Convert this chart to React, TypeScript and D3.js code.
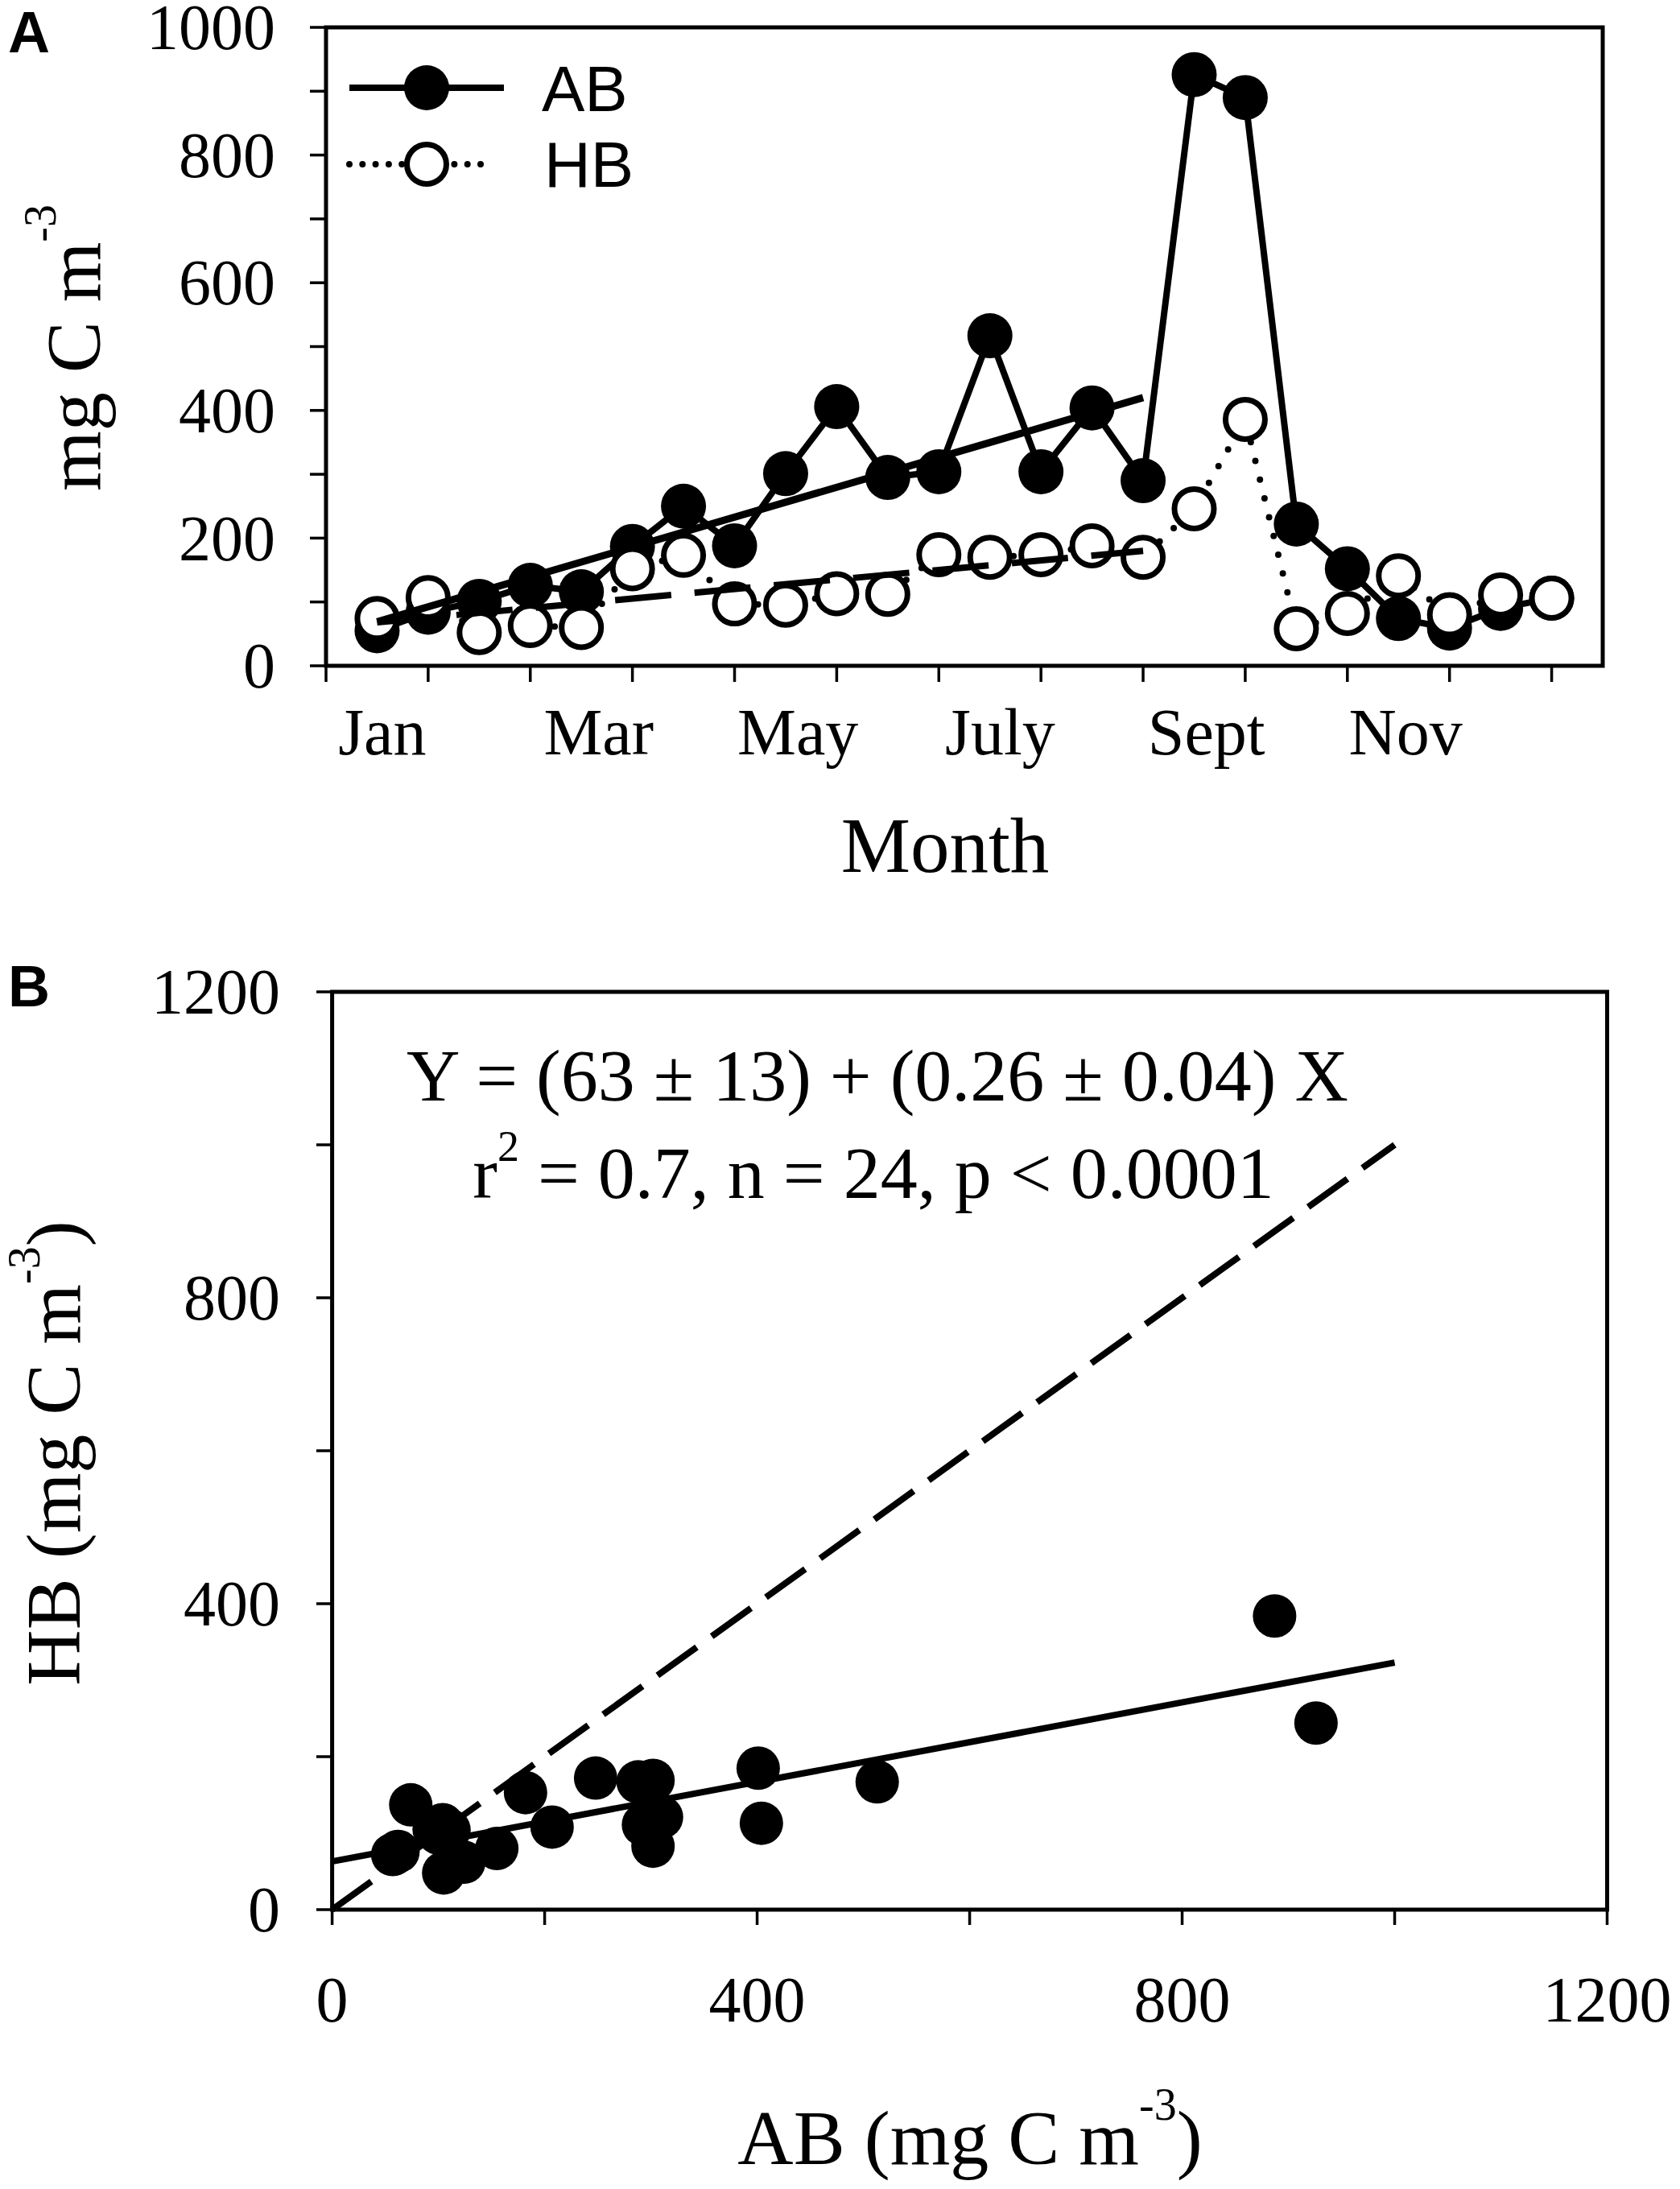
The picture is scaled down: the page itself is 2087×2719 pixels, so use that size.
import * as d3 from "d3";

// Panel A: biomass by sampling date (months from Jan 1)
const sampleMonth = [0.5, 1, 1.5, 2, 2.5, 3, 3.5, 4, 4.5, 5, 5.5, 6, 6.5, 7, 7.5, 8, 8.5, 9, 9.5, 10, 10.5, 11, 11.5, 12];
const abBiomass = [55, 84, 101, 126, 116, 187, 250, 188, 301, 406, 295, 304, 517, 304, 404, 290, 926, 890, 222, 152, 74, 59, 90, 106];
const hbBiomass = [74, 107, 52, 63, 60, 152, 173, 97, 95, 113, 112, 174, 170, 174, 188, 170, 246, 386, 58, 82, 141, 80, 111, 106];
const abTrend: [number, number][] = [[0.5, 69], [8, 420]];
const hbTrend: [number, number][] = [[0.5, 68], [8, 180]];
const monthTicks = [0, 1, 2, 3, 4, 5, 6, 7, 8, 9, 10, 11, 12];
const monthLabels = ["Jan", "Mar", "May", "July", "Sept", "Nov"];
const monthLabelPos = [0.55, 2.67, 4.62, 6.6, 8.62, 10.57];
const yTicksA = [0, 100, 200, 300, 400, 500, 600, 700, 800, 900, 1000];
const yLabelsA = [0, 200, 400, 600, 800, 1000];

// Panel B: HB vs AB
const scatterAB = [57, 62, 74, 96, 100, 104, 110, 105, 124, 116, 155, 182, 207, 248, 288, 302, 293, 310, 302, 401, 404, 513, 887, 926];
const scatterHB = [72, 76, 137, 105, 100, 111, 104, 48, 62, 66, 80, 153, 108, 172, 167, 169, 111, 121, 83, 185, 113, 167, 384, 244];
const fitB: [number, number][] = [[0, 63], [1000, 323]];
const oneToOne: [number, number][] = [[0, 0], [1000, 1000]];
const ticksB = [0, 200, 400, 600, 800, 1000, 1200];
const labelsB = [0, 400, 800, 1200];

const SERIF = "'Liberation Serif', 'Times New Roman', serif";
const SANS = "'Liberation Sans', Arial, sans-serif";

export default function App() {
  const xA = d3.scaleLinear().domain([0, 12.5]).range([405, 1991]);
  const yA = d3.scaleLinear().domain([0, 1000]).range([827, 34]);
  const xB = d3.scaleLinear().domain([0, 1200]).range([412.6, 1996.5]);
  const yB = d3.scaleLinear().domain([0, 1200]).range([2372, 1232]);

  const seriesLine = d3.line<number>()
    .x((_, i) => xA(sampleMonth[i]))
    .y(d => yA(d));
  const trendA = d3.line<[number, number]>().x(d => xA(d[0])).y(d => yA(d[1]));
  const lineB = d3.line<[number, number]>().x(d => xB(d[0])).y(d => yB(d[1]));

  return (
    <svg width={2087} height={2719} style={{ position: "absolute", left: 0, top: 0, background: "#fff" }}>
      <rect width={2087} height={2719} fill="#fff" />

      {/* ---------- Panel A ---------- */}
      <text x={10} y={65} fontFamily={SANS} fontWeight="bold" fontSize={72}>A</text>

      <rect x={xA(0)} y={yA(1000)} width={xA(12.5) - xA(0)} height={yA(0) - yA(1000)}
        fill="none" stroke="#000" strokeWidth={5} />
      {yTicksA.map(v => (
        <line key={"ya" + v} x1={385} x2={xA(0)} y1={yA(v)} y2={yA(v)} stroke="#000" strokeWidth={3.5} />
      ))}
      {yLabelsA.map(v => (
        <text key={"yla" + v} x={342} y={yA(v)} dy="0.34em" textAnchor="end" fontFamily={SERIF} fontSize={80}>{v}</text>
      ))}
      {monthTicks.map(m => (
        <line key={"xa" + m} x1={xA(m)} x2={xA(m)} y1={yA(0)} y2={yA(0) + 20} stroke="#000" strokeWidth={3.5} />
      ))}
      {monthLabels.map((s, i) => (
        <text key={s} x={xA(monthLabelPos[i])} y={937} textAnchor="middle" fontFamily={SERIF} fontSize={82}>{s}</text>
      ))}
      <text x={1174} y={1083} textAnchor="middle" fontFamily={SERIF} fontSize={97}>Month</text>
      <text transform="translate(124,432) rotate(-90)" textAnchor="middle" fontFamily={SERIF} fontSize={96}>
        mg C m<tspan fontSize={56} dy={-55}>-3</tspan>
      </text>

      {/* AB series */}
      <path d={seriesLine(abBiomass) ?? ""} fill="none" stroke="#000" strokeWidth={8} strokeLinejoin="round" />
      {abBiomass.map((v, i) => (
        <circle key={"ab" + i} cx={xA(sampleMonth[i])} cy={yA(v)} r={28} fill="#000" />
      ))}
      {/* HB series */}
      <path d={seriesLine(hbBiomass) ?? ""} fill="none" stroke="#000" strokeWidth={8}
        strokeDasharray="0 24" strokeLinecap="round" />
      {hbBiomass.map((v, i) => (
        <circle key={"hb" + i} cx={xA(sampleMonth[i])} cy={yA(v)} r={24.5} fill="#fff" stroke="#000" strokeWidth={7} />
      ))}
      {/* trend lines */}
      <path d={trendA(abTrend) ?? ""} fill="none" stroke="#000" strokeWidth={9} />
      <path d={trendA(hbTrend) ?? ""} fill="none" stroke="#000" strokeWidth={8} strokeDasharray="70 29" />

      {/* legend */}
      <line x1={434} x2={626} y1={109} y2={109} stroke="#000" strokeWidth={8} />
      <circle cx={530} cy={109} r={28} fill="#000" />
      <text x={673} y={138} fontFamily={SANS} fontSize={80}>AB</text>
      <line x1={434} x2={610} y1={204} y2={204} stroke="#000" strokeWidth={8} strokeDasharray="0 16.3" strokeLinecap="round" />
      <circle cx={530} cy={204} r={24.5} fill="#fff" stroke="#000" strokeWidth={7} />
      <text x={676} y={232} fontFamily={SANS} fontSize={80}>HB</text>

      {/* ---------- Panel B ---------- */}
      <text x={10} y={1250} fontFamily={SANS} fontWeight="bold" fontSize={72}>B</text>

      <rect x={xB(0)} y={yB(1200)} width={xB(1200) - xB(0)} height={yB(0) - yB(1200)}
        fill="none" stroke="#000" strokeWidth={5} />
      {ticksB.map(v => (
        <line key={"yb" + v} x1={393} x2={xB(0)} y1={yB(v)} y2={yB(v)} stroke="#000" strokeWidth={3.5} />
      ))}
      {ticksB.map(v => (
        <line key={"xb" + v} x1={xB(v)} x2={xB(v)} y1={yB(0)} y2={yB(0) + 19} stroke="#000" strokeWidth={3.5} />
      ))}
      {labelsB.map(v => (
        <text key={"ylb" + v} x={348} y={yB(v)} dy="0.34em" textAnchor="end" fontFamily={SERIF} fontSize={80}>{v}</text>
      ))}
      {labelsB.map(v => (
        <text key={"xlb" + v} x={xB(v)} y={2511} textAnchor="middle" fontFamily={SERIF} fontSize={80}>{v}</text>
      ))}
      <text transform="translate(99,1805) rotate(-90)" textAnchor="middle" fontFamily={SERIF} fontSize={96}>
        HB (mg C m<tspan fontSize={56} dy={-50}>-3</tspan><tspan dy={50}>)</tspan>
      </text>
      <text x={1205} y={2688} textAnchor="middle" fontFamily={SERIF} fontSize={96}>
        AB (mg C m<tspan fontSize={56} dy={-55}>-3</tspan><tspan dy={55}>)</tspan>
      </text>

      <path d={lineB(oneToOne) ?? ""} fill="none" stroke="#000" strokeWidth={8} strokeDasharray="60 23" />
      <path d={lineB(fitB) ?? ""} fill="none" stroke="#000" strokeWidth={8} />
      {scatterAB.map((v, i) => (
        <circle key={"s" + i} cx={xB(v)} cy={yB(scatterHB[i])} r={27} fill="#000" />
      ))}

      <text x={1090} y={1367} textAnchor="middle" fontFamily={SERIF} fontSize={92}>
        Y = (63 ± 13) + (0.26 ± 0.04) X
      </text>
      <text x={1085} y={1488} textAnchor="middle" fontFamily={SERIF} fontSize={92}>
        r<tspan fontSize={54} dy={-46}>2</tspan><tspan dy={46}> = 0.7, n = 24, p &lt; 0.0001</tspan>
      </text>
    </svg>
  );
}
